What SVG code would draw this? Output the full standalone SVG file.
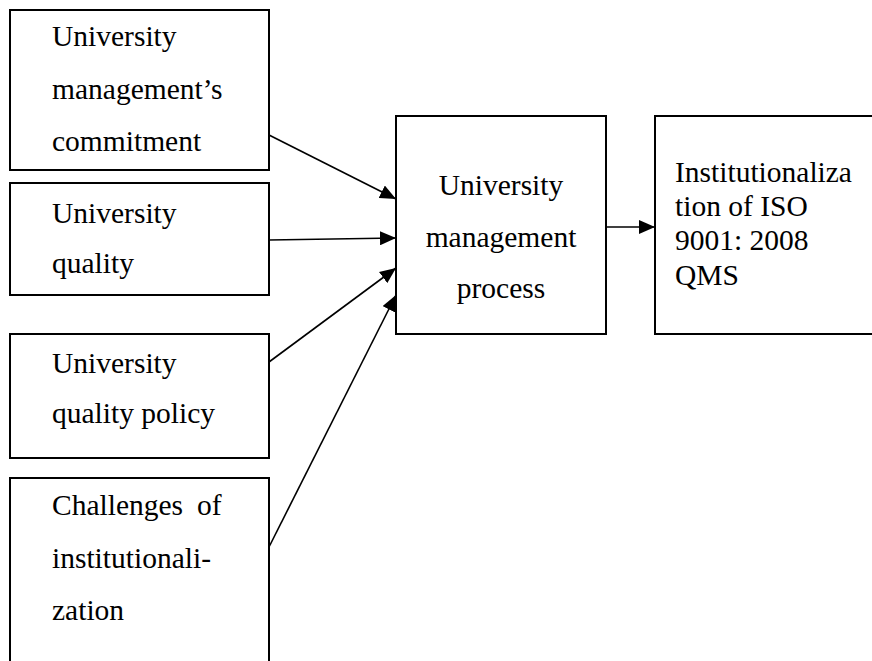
<svg xmlns="http://www.w3.org/2000/svg" width="872" height="661" viewBox="0 0 872 661">
<style>
.box{fill:#fff;stroke:#000;stroke-width:2}
.t{font-family:"Liberation Serif","Times New Roman",serif;font-size:29.5px;fill:#000}
.c{text-anchor:middle}
.e{stroke:#000;stroke-width:1.6;fill:none}
</style>
<defs>
<marker id="ah" markerUnits="userSpaceOnUse" markerWidth="16" markerHeight="14" refX="16" refY="7" orient="auto">
<path d="M0,0 L16,7 L0,14 Z" fill="#000"/>
</marker>
</defs>
<rect width="872" height="661" fill="#fff"/>
<g id="n1">
<rect class="box" x="10" y="10" width="259" height="160"/>
<text class="t" x="52" y="46">University</text>
<text class="t" x="52" y="99">management’s</text>
<text class="t" x="52" y="151">commitment</text>
</g>
<g id="n2">
<rect class="box" x="10" y="183" width="259" height="112"/>
<text class="t" x="52" y="223">University</text>
<text class="t" x="52" y="273">quality</text>
</g>
<g id="n3">
<rect class="box" x="10" y="334" width="259" height="124"/>
<text class="t" x="52" y="373">University</text>
<text class="t" x="52" y="423">quality policy</text>
</g>
<g id="n4">
<rect class="box" x="10" y="478" width="259" height="200"/>
<text class="t" x="52" y="515">Challenges<tspan x="197">of</tspan></text>
<text class="t" x="52" y="568">institutionali-</text>
<text class="t" x="52" y="620">zation</text>
</g>
<g id="n5">
<rect class="box" x="396" y="116" width="210" height="218"/>
<text class="t c" x="501" y="195">University</text>
<text class="t c" x="501" y="247">management</text>
<text class="t c" x="501" y="298">process</text>
</g>
<g id="n6">
<rect class="box" x="655" y="116" width="230" height="218"/>
<text class="t" x="675" y="182">Institutionaliza</text>
<text class="t" x="675" y="216">tion of ISO</text>
<text class="t" x="675" y="250">9001: 2008</text>
<text class="t" x="675" y="285">QMS</text>
</g>
<g id="edges">
<line class="e" x1="269" y1="135" x2="396" y2="199" marker-end="url(#ah)"/>
<line class="e" x1="269" y1="240" x2="396" y2="238" marker-end="url(#ah)"/>
<line class="e" x1="269" y1="362" x2="396" y2="268" marker-end="url(#ah)"/>
<line class="e" x1="269" y1="547" x2="396" y2="295" marker-end="url(#ah)"/>
<line class="e" x1="606" y1="227" x2="655" y2="227" marker-end="url(#ah)"/>
</g>
</svg>
